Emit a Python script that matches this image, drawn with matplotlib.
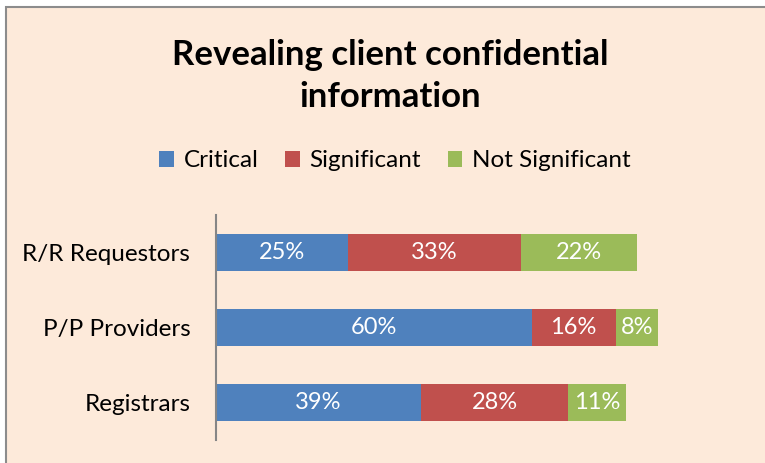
import numpy as np
import matplotlib.pyplot as plt
from matplotlib.patches import Patch, Rectangle

plt.rcParams['font.family'] = ['Lato', 'DejaVu Sans']

groups = ["R/R Requestors", "P/P Providers", "Registrars"]
critical = [25, 60, 39]
significant = [33, 16, 28]
not_significant = [22, 8, 11]

series = [("Critical", critical, "#4F81BD"),
          ("Significant", significant, "#C0504D"),
          ("Not Significant", not_significant, "#9BBB59")]

W, H = 765, 463
bg = "#FDEADA"
fig = plt.figure(figsize=(W / 100, H / 100), dpi=100, facecolor="white")

# chart area with its frame (only top and left edges fall inside the image)
fig.add_artist(Rectangle((5.5 / W, -0.1), 1.2, 1 - 7 / H + 0.1,
                         transform=fig.transFigure, facecolor=bg,
                         edgecolor="#8C8C8C", lw=1.5, zorder=0))

ax = fig.add_axes([216 / W, 1 - 440 / H, 526 / W, 225 / H])
ax.set_facecolor("none")

y = np.arange(len(groups))
left = np.zeros(len(groups))
for name, vals, color in series:
    vals = np.array(vals)
    ax.barh(y, vals, left=left, height=0.5, color=color, label=name)
    for yi, l, v in zip(y, left, vals):
        ax.text(l + v / 2, yi, f"{v}%", ha="center", va="center",
                color="white", fontsize=17)
    left += vals

ax.set_xlim(0, 100)
ax.set_ylim(2.5, -0.5)
ax.set_yticks(y)
ax.set_yticklabels(groups, fontsize=17.5)
ax.tick_params(axis="y", length=0, pad=18.5)
ax.set_xticks([])
for side in ["top", "right", "bottom"]:
    ax.spines[side].set_visible(False)
ax.spines["left"].set_color("#868686")
ax.spines["left"].set_linewidth(1.5)

fig.text(390 / W, 1 - 76 / H, "Revealing client confidential\ninformation",
         ha="center", va="center", fontsize=25, fontweight="bold",
         linespacing=1.42)

handles = [Patch(facecolor=c, label=n) for n, _, c in series]
fig.legend(handles=handles, loc="center", ncol=3, frameon=False,
           bbox_to_anchor=(395 / W, 1 - 161 / H), fontsize=17.5,
           handlelength=0.6, handleheight=0.6, handletextpad=0.4,
           columnspacing=1.1)

fig.savefig("out.png", dpi=100, facecolor=fig.get_facecolor())
